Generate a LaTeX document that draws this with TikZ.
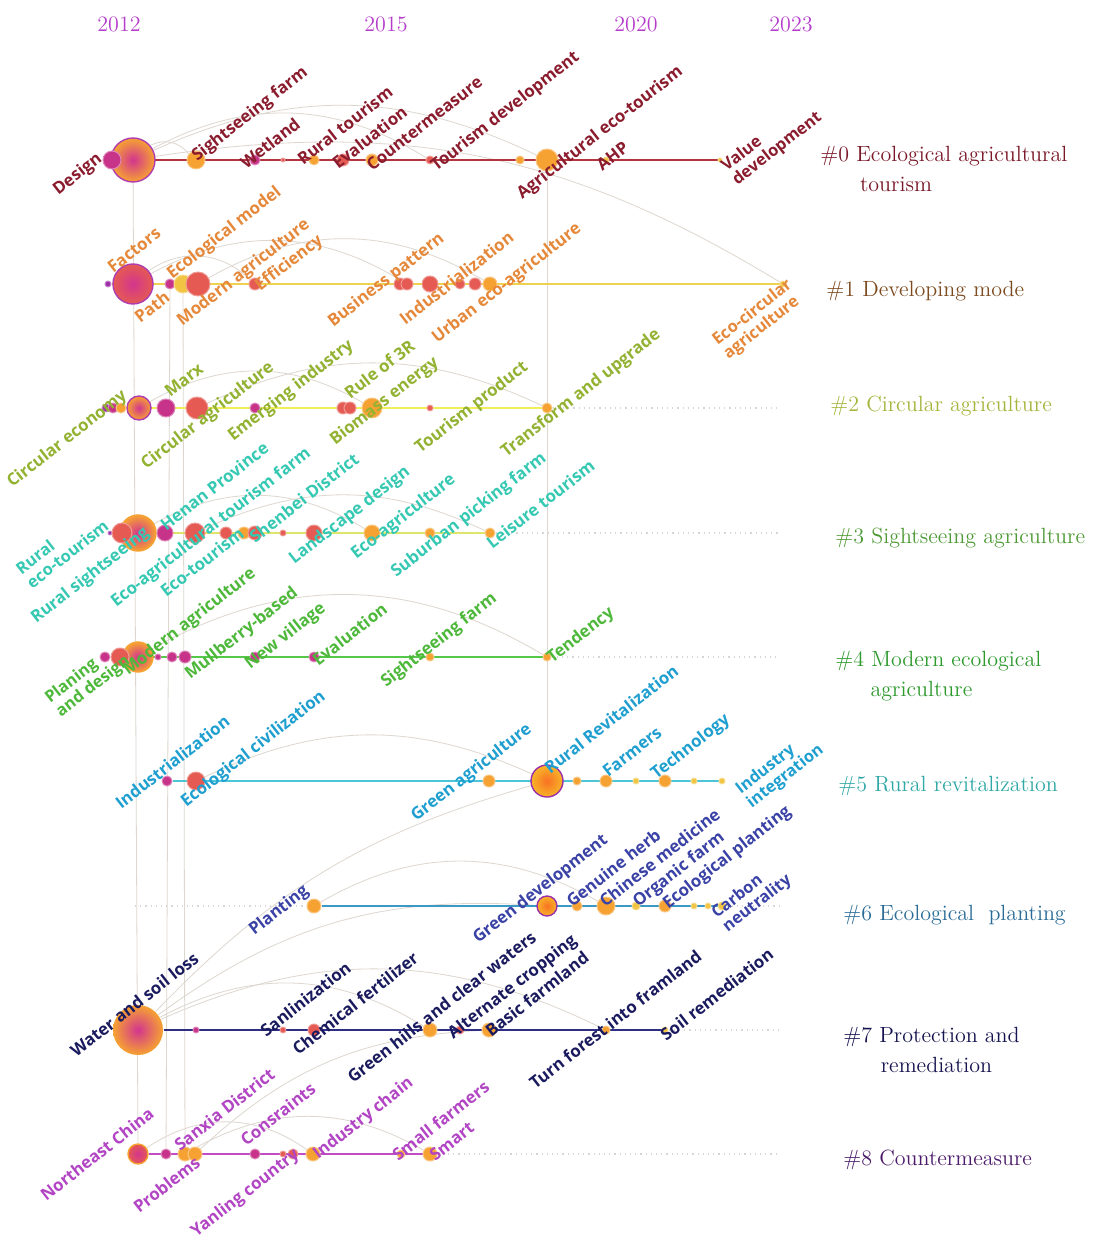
\documentclass[tikz,border=0pt]{standalone}
\usepackage{fontspec}
\setsansfont{Open Sans}
\usepackage{tikz}
\usetikzlibrary{backgrounds}

\definecolor{yearPurple}{HTML}{B63CCB}
\definecolor{cOr}{HTML}{F6A232}
\definecolor{cRd}{HTML}{E55A52}
\definecolor{cMg}{HTML}{C8338A}
\definecolor{cYl}{HTML}{F2C443}
\definecolor{cPu}{HTML}{9C2FA8}
\definecolor{hubCore}{HTML}{D2358E}
\definecolor{hubRing}{HTML}{B03CB0}
\definecolor{arcGrey}{HTML}{DDD7CF}
\definecolor{extGrey}{HTML}{D6D6D6}
% timeline colours
\definecolor{l0}{HTML}{B5343E}
\definecolor{l1}{HTML}{EFD150}
\definecolor{l2}{HTML}{F1EE5A}
\definecolor{l3}{HTML}{DDE56A}
\definecolor{l4}{HTML}{55C84A}
\definecolor{l5}{HTML}{4CC6D6}
\definecolor{l6}{HTML}{3C98C4}
\definecolor{l7}{HTML}{2E2E86}
\definecolor{l8}{HTML}{C04CC6}
% keyword colours
\definecolor{t0}{HTML}{8A1C2E}
\definecolor{t1}{HTML}{E5883A}
\definecolor{t2}{HTML}{93B232}
\definecolor{t3}{HTML}{35C8B2}
\definecolor{t4}{HTML}{4DB83A}
\definecolor{t5}{HTML}{1F9FD0}
\definecolor{t6}{HTML}{3A42A6}
\definecolor{t7}{HTML}{1A1A5E}
\definecolor{t8}{HTML}{B245C4}
% cluster colours
\definecolor{k0}{HTML}{7A1828}
\definecolor{k1}{HTML}{7C4A1E}
\definecolor{k2}{HTML}{A5B43A}
\definecolor{k3}{HTML}{4E9A36}
\definecolor{k4}{HTML}{2C9A2C}
\definecolor{k5}{HTML}{2FA8A6}
\definecolor{k6}{HTML}{2A6C96}
\definecolor{k7}{HTML}{15144E}
\definecolor{k8}{HTML}{4B1A6A}

\tikzset{
  dot/.style={circle, inner sep=0pt, line width=0.5pt},
  hub/.style={circle, inner sep=0pt, line width=0.7pt, draw=hubRing, inner color=hubCore, outer color=cOr},
  kw/.style={font=\sffamily\bfseries\fontsize{8.4}{9}\selectfont, rotate=38, anchor=base west, inner sep=0pt},
  kwtwo/.style={kw, anchor=center, align=left, font=\sffamily\bfseries\fontsize{8.2}{8.8}\selectfont},
  clus/.style={font=\fontsize{11}{15}\selectfont, anchor=west, inner sep=0pt, align=left},
  yearlbl/.style={font=\fontsize{11}{13}\selectfont, text=yearPurple},
  tl/.style={line width=1.3pt},
  arc/.style={draw=arcGrey, line width=0.4pt},
  ext/.style={draw=extGrey, line width=0.6pt, dotted},
}

\begin{document}
\begin{tikzpicture}[x=0.5pt, y=-0.5pt, line cap=round, line join=round]
  \useasboundingbox (0,0) rectangle (1095,1240);

  \foreach \x/\yy in {119/2012, 386/2015, 636/2020, 791/2023}
    \node[yearlbl] (y\yy) at (\x,24) {\yy};

  % #0
  \node[hub, minimum size=22pt] (n0-hub) at (133,160) {};
  \foreach \nx/\nr/\nf in {112/9/cMg, 196/9/cOr, 255/5/cMg, 283/2/cRd, 314/5/cOr, 343/6/cRd, 372/6/cOr, 430/4/cRd, 520/4/cOr, 547/11/cOr, 606/3/cYl, 720/2/cYl}
    \node[dot, fill=\nf, draw=\nf!60!white, minimum size=\nr pt] (n0-\nx) at (\nx,160) {};
  \foreach \lx/\ly/\lt [count=\i] in {58/196/Design, 197/162/Sightseeing farm, 246/170/Wetland, 303/166/Rural tourism, 338/170/Evaluation, 372/172/Countermeasure, 436/172/Tourism development, 522/200/Agricultural eco-tourism, 602/172/AHP}
    \node[kw, text=t0] (k0-\i) at (\lx,\ly) {\lt};
  \node[kwtwo, text=t0] (k0-val) at (772,142) {Value\\development};

  % #1
  \node[hub, minimum size=20pt, outer color=cRd] (n1-hub) at (133,284) {};
  \foreach \nx/\nr/\nf in {108/3/cPu, 170/5/cMg, 183/9/cYl, 198/12/cRd, 255/6/cRd, 400/6/cRd, 407/6/cRd, 430/8/cRd, 460/5/cRd, 475/6/cRd, 490/7/cOr, 783/3/cYl}
    \node[dot, fill=\nf, draw=\nf!60!white, minimum size=\nr pt] (n1-\nx) at (\nx,284) {};
  \foreach \lx/\ly/\lt [count=\i] in {113/274/Factors, 172/280/Ecological model, 140/324/Path, 182/327/Modern agriculture, 260/292/Efficiency, 333/328/Business pattern, 405/326/Industrialization, 437/344/Urban eco-agriculture}
    \node[kw, text=t1] (k1-\i) at (\lx,\ly) {\lt};
  \node[kwtwo, text=t1] (k1-eco) at (758,320) {Eco-circular\\agriculture};

  % #2
  \node[hub, minimum size=12pt, outer color=cOr] (n2-hub) at (139,408) {};
  \foreach \nx/\nr/\nf in {106/4/cPu, 113/5/cMg, 121/5/cOr, 166/9/cMg, 197/11/cRd, 255/5/cMg, 343/6/cRd, 350/6/cRd, 372/10/cOr, 430/3/cRd, 547/5/cOr}
    \node[dot, fill=\nf, draw=\nf!60!white, minimum size=\nr pt] (n2-\nx) at (\nx,408) {};
  \foreach \lx/\ly/\lt [count=\i] in {12/488/Circular economy, 170/398/Marx, 146/470/Circular agriculture, 233/442/Emerging industry, 350/400/Rule of 3R, 335/446/Biomass energy, 420/454/Tourism product, 506/458/Transform and upgrade}
    \node[kw, text=t2] (k2-\i) at (\lx,\ly) {\lt};

  % #3
  \node[hub, minimum size=18pt, draw=cOr] (n3-hub) at (138,533) {};
  \foreach \nx/\nr/\nf in {110/2/cPu, 122/10/cRd, 165/8/cMg, 195/10/cRd, 226/6/cRd, 244/6/cOr, 255/7/cRd, 283/3/cRd, 314/8/cRd, 372/8/cOr, 430/5/cOr, 490/5/cOr}
    \node[dot, fill=\nf, draw=\nf!60!white, minimum size=\nr pt] (n3-\nx) at (\nx,533) {};
  \foreach \lx/\ly/\lt [count=\i] in {36/624/Rural sightseeing, 166/532/Henan Province, 116/608/Eco-agricultural tourism farm, 166/598/Eco-tourism, 255/544/Shenbei District, 294/565/Landscape design, 356/560/Eco-agriculture, 396/578/Suburban picking farm, 492/550/Leisure tourism}
    \node[kw, text=t3] (k3-\i) at (\lx,\ly) {\lt};
  \node[kwtwo, text=t3] (k3-rural) at (62,547) {Rural\\eco-tourism};

  % #4
  \node[hub, minimum size=15pt, draw=cOr] (n4-hub) at (138,657) {};
  \foreach \nx/\nr/\nf in {105/5/cMg, 120/9/cRd, 158/3/cMg, 172/5/cMg, 185/6/cMg, 255/5/cMg, 314/5/cMg, 430/4/cOr, 547/4/cOr}
    \node[dot, fill=\nf, draw=\nf!60!white, minimum size=\nr pt] (n4-\nx) at (\nx,657) {};
  \foreach \lx/\ly/\lt [count=\i] in {128/676/Modern agriculture, 190/680/Mullberry-based, 250/670/New village, 318/667/Evaluation, 386/688/Sightseeing farm, 552/664/Tendency}
    \node[kw, text=t4] (k4-\i) at (\lx,\ly) {\lt};
  \node[kwtwo, text=t4] (k4-plan) at (88,680) {Planing\\and design};

  % #5
  \node[hub, minimum size=16pt, inner color=cOr!70!red, outer color=cOr!80!yellow, draw=cPu] (n5-hub) at (547,781) {};
  \foreach \nx/\nr/\nf in {167/5/cMg, 196/9/cRd, 489/6/cOr, 577/4/cOr, 606/6/cOr, 636/3/cYl, 665/6/cOr, 694/3/cYl, 722/3/cYl}
    \node[dot, fill=\nf, draw=\nf!60!white, minimum size=\nr pt] (n5-\nx) at (\nx,781) {};
  \foreach \lx/\ly/\lt [count=\i] in {121/810/Industrialization, 186/808/Ecological civilization, 416/822/Green agriculture, 550/775/Rural Revitalization, 608/778/Farmers, 656/780/Technology}
    \node[kw, text=t5] (k5-\i) at (\lx,\ly) {\lt};
  \node[kwtwo, text=t5] (k5-ind) at (780,770) {Industry\\integration};

  % #6
  \node[hub, minimum size=10pt, inner color=cOr!70!red, outer color=cOr!80!yellow, draw=cPu] (n6-hub) at (547,906) {};
  \foreach \nx/\nr/\nf in {314/7/cOr, 577/5/cOr, 606/9/cOr, 636/4/cYl, 665/6/cOr, 694/3/cYl, 708/3/cYl, 722/4/cYl}
    \node[dot, fill=\nf, draw=\nf!60!white, minimum size=\nr pt] (n6-\nx) at (\nx,906) {};
  \foreach \lx/\ly/\lt [count=\i] in {254/936/Planting, 478/944/Green development, 572/908/Genuine herb, 605/908/Chinese medicine, 638/908/Organic farm, 668/910/Ecological planting}
    \node[kw, text=t6] (k6-\i) at (\lx,\ly) {\lt};
  \node[kwtwo, text=t6] (k6-carb) at (752,897) {Carbon\\neutrality};

  % #7
  \node[hub, minimum size=25pt, draw=none] (n7-hub) at (138,1030) {};
  \foreach \nx/\nr/\nf in {196/3/cMg, 283/3/cRd, 314/6/cRd, 430/7/cOr, 460/4/cRd, 489/7/cOr, 606/4/cOr, 665/3/cYl}
    \node[dot, fill=\nf, draw=\nf!60!white, minimum size=\nr pt] (n7-\nx) at (\nx,1030) {};
  \foreach \lx/\ly/\lt [count=\i] in {76/1058/Water and soil loss, 266/1038/Sanlinization, 298/1056/Chemical fertilizer, 353/1084/Green hills and clear waters, 453/1040/Alternate cropping, 491/1038/Basic farmland, 535/1090/Turn forest into framland, 666/1042/Soil remediation}
    \node[kw, text=t7] (k7-\i) at (\lx,\ly) {\lt};

  % #8
  \node[hub, minimum size=10pt, draw=cOr, outer color=cRd] (n8-hub) at (138,1154) {};
  \foreach \nx/\nr/\nf in {166/5/cMg, 185/7/cOr, 195/7/cOr, 255/5/cMg, 283/3/cRd, 293/5/cRd, 313/7/cOr, 401/4/cOr, 430/7/cOr}
    \node[dot, fill=\nf, draw=\nf!60!white, minimum size=\nr pt] (n8-\nx) at (\nx,1154) {};
  \foreach \lx/\ly/\lt [count=\i] in {46/1202/Northeast China, 180/1152/Sanxia District, 139/1214/Problems, 246/1147/Consraints, 196/1238/Yanling country, 318/1160/Industry chain, 398/1162/Small farmers, 435/1162/Smart}
    \node[kw, text=t8] (k8-\i) at (\lx,\ly) {\lt};

  % cluster labels
  \node[clus, text=k0] (c0) at (820,169) {\#0 Ecological agricultural\\\hspace*{1.8em}tourism};
  \node[clus, text=k1] (c1) at (826,291) {\#1 Developing mode};
  \node[clus, text=k2] (c2) at (830,406) {\#2 Circular agriculture};
  \node[clus, text=k3] (c3) at (835,538) {\#3 Sightseeing agriculture};
  \node[clus, text=k4] (c4) at (835,676) {\#4 Modern ecological\\\hspace*{1.6em}agriculture};
  \node[clus, text=k5] (c5) at (838,786) {\#5 Rural revitalization};
  \node[clus, text=k6] (c6) at (843,915) {\#6 Ecological\ \ planting};
  \node[clus, text=k7] (c7) at (843,1050) {\#7 Protection and\\\hspace*{1.7em}remediation};
  \node[clus, text=k8] (c8) at (843,1160) {\#8 Countermeasure};

  \coordinate (x2) at (780,408);
  \coordinate (x3) at (780,533);
  \coordinate (x4) at (780,657);
  \coordinate (x6) at (780,906);
  \coordinate (w6) at (135,906);
  \coordinate (x7) at (780,1030);
  \coordinate (x8) at (780,1154);

  \begin{pgfonlayer}{background}
    \fill[white] (0,0) rectangle (1095,1240);
    % co-occurrence arcs
    \draw[arc] (n0-hub) -- (n8-hub);
    \draw[arc] (n1-170) -- (n8-166);
    \draw[arc] (n1-183) -- (n8-185);
    \draw[arc] (n0-hub) to[bend left=25] (n0-547);
    \draw[arc] (n0-hub) to[bend left=30] (n0-430);
    \draw[arc] (n0-hub) to[bend left=40] (n0-196);
    \draw[arc] (n0-hub) to[bend left=20] (n1-783);
    \draw[arc] (n1-hub) to[bend left=30] (n1-407);
    \draw[arc] (n1-hub) to[bend left=40] (n1-255);
    \draw[arc] (n1-198) to[bend left=30] (n1-490);
    \draw[arc] (n2-hub) to[bend left=30] (n2-372);
    \draw[arc] (n2-197) to[bend left=25] (n2-547);
    \draw[arc] (n3-hub) to[bend left=30] (n3-372);
    \draw[arc] (n3-195) to[bend left=25] (n3-490);
    \draw[arc] (n4-hub) to[bend left=30] (n4-547);
    \draw[arc] (n5-196) to[bend left=25] (n5-hub);
    \draw[arc] (n6-314) to[bend left=30] (n6-606);
    \draw[arc] (n7-hub) to[bend left=30] (n7-430);
    \draw[arc] (n7-hub) to[bend left=25] (n7-606);
    \draw[arc] (n7-hub) to[bend left=20] (n6-hub);
    \draw[arc] (n7-hub) to[bend left=15] (n5-hub);
    \draw[arc] (n5-hub) -- (n0-547);
    \draw[arc] (n8-185) to[bend left=30] (n8-430);
    \draw[arc] (n8-hub) to[bend left=35] (n8-313);
    \draw[arc] (n8-195) to[bend left=20] (n7-489);
    % timelines
    \draw[tl, draw=l0] (n0-112) -- (n0-720);
    \draw[tl, draw=l1] (n1-108) -- (n1-783);
    \draw[tl, draw=l2] (n2-106) -- (n2-547);
    \draw[tl, draw=l3] (n3-110) -- (n3-490);
    \draw[tl, draw=l4] (n4-105) -- (n4-547);
    \draw[tl, draw=l5] (n5-167) -- (n5-722);
    \draw[tl, draw=l6] (n6-314) -- (n6-722);
    \draw[tl, draw=l7] (n7-hub) -- (n7-665);
    \draw[tl, draw=l8] (n8-hub) -- (n8-430);
    \draw[ext] (n2-547) -- (x2);
    \draw[ext] (n3-490) -- (x3);
    \draw[ext] (n4-547) -- (x4);
    \draw[ext] (w6) -- (n6-314);
    \draw[ext] (n6-722) -- (x6);
    \draw[ext] (n7-665) -- (x7);
    \draw[ext] (n8-430) -- (x8);
  \end{pgfonlayer}
\end{tikzpicture}
\end{document}
